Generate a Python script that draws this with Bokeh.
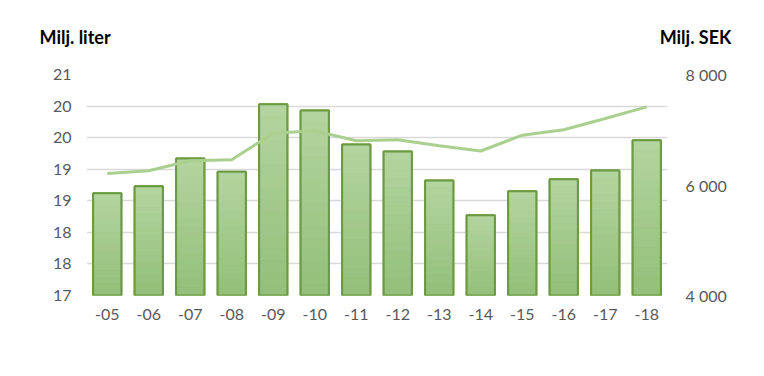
from bokeh.plotting import figure
from bokeh.models import (Range1d, LinearAxis, FixedTicker, CustomJSTickFormatter,
                          ColumnDataSource, Legend, LegendItem)
from bokeh.embed import file_html
from bokeh.resources import INLINE

years = ["-05", "-06", "-07", "-08", "-09", "-10", "-11", "-12", "-13", "-14", "-15", "-16", "-17", "-18"]
liter = [18.62, 18.73, 19.17, 18.96, 20.03, 19.93, 19.39, 19.28, 18.82, 18.27, 18.65, 18.84, 18.98, 19.46]
sek = [6208, 6257, 6438, 6456, 6937, 6981, 6800, 6818, 6709, 6615, 6901, 6999, 7204, 7415]
left_ticks = [17, 17.5, 18, 18.5, 19, 19.5, 20, 20.5]
right_ticks = [4000, 6000, 8000]
left_title = "Milj. liter"
right_title = "Milj. SEK"

FONT = "Lato"
GRAY = "#595959"
BAR_TOP = "#b3d59f"
BAR_BOTTOM = "#93bf7a"
BAR_EDGE = "#6b9a40"
LINE_COL = "#a9d08e"

p = figure(frame_width=581, frame_height=221, x_range=years, y_range=Range1d(17, 20.5),
           output_backend="svg", toolbar_location=None,
           min_border_left=86, min_border_right=81, min_border_top=72, min_border_bottom=0)
p.outline_line_color = None
p.background_fill_color = "white"
p.border_fill_color = "white"
p.extra_y_ranges = {"sek": Range1d(4000, 8000)}

# Both axis titles share the top line (em spaces keep them apart)
p.title.text = left_title + "\u2003" * 40 + "\u2002" + right_title
p.title.align = "left"
p.title.vertical_align = "top"
p.title.offset = -47
p.title.standoff = 50
p.title.text_font = FONT
p.title.text_font_size = "18px"
p.title.text_font_style = "bold"
p.title.text_color = "black"

# Gradient slices for bars
N = 16
def hex2rgb(h):
    return tuple(int(h[i:i + 2], 16) for i in (1, 3, 5))
c_top, c_bot = hex2rgb(BAR_TOP), hex2rgb(BAR_BOTTOM)
sx, sb, st, sc = [], [], [], []
for yr, v in zip(years, liter):
    for k in range(N):
        f = (k + 0.5) / N
        col = tuple(int(round(c_bot[j] + (c_top[j] - c_bot[j]) * f)) for j in range(3))
        sx.append(yr)
        sb.append(17 + (v - 17) * k / N)
        st.append(17 + (v - 17) * (k + 1) / N)
        sc.append("#%02x%02x%02x" % col)

bars_src = ColumnDataSource(dict(x=years, top=liter))
base = p.vbar(x="x", top="top", bottom=17, width=0.68, source=bars_src,
              fill_color="#a3ca8b", line_color=BAR_EDGE, line_width=2)
slices = ColumnDataSource(dict(x=sx, bottom=sb, top=st, color=sc))
p.vbar(x="x", bottom="bottom", top="top", width=0.68, source=slices,
       fill_color="color", line_color="color", line_width=0.5)
p.vbar(x="x", top="top", bottom=17, width=0.68, source=bars_src,
       fill_alpha=0, line_color=BAR_EDGE, line_width=2)

ln = p.line(x=years, y=sek, y_range_name="sek", line_color=LINE_COL, line_width=3)

# Axes
p.yaxis.ticker = FixedTicker(ticks=left_ticks)
p.yaxis.formatter = CustomJSTickFormatter(code="return Math.round(tick).toString();")
right = LinearAxis(y_range_name="sek", ticker=FixedTicker(ticks=right_ticks),
                   formatter=CustomJSTickFormatter(code="return Math.round(tick).toString().replace(/\\B(?=(\\d{3})+(?!\\d))/g, ' ');"))
p.add_layout(right, "right")

for ax in [p.yaxis[0], right, p.xaxis[0]]:
    ax.axis_line_color = None
    ax.major_tick_line_color = None
    ax.minor_tick_line_color = None
    ax.major_tick_out = 0
    ax.major_tick_in = 0
    ax.major_label_text_font = FONT
    ax.major_label_text_font_size = "16px"
    ax.major_label_text_color = GRAY
p.yaxis[0].major_label_standoff = 15
right.major_label_standoff = 18
p.xaxis.major_label_standoff = 13

p.xgrid.grid_line_color = None
p.ygrid.grid_line_color = "#d9d9d9"
p.ygrid.grid_line_width = 1.5

legend = Legend(items=[LegendItem(label="Liter", renderers=[base]),
                       LegendItem(label="SEK (inkl. moms)", renderers=[ln])],
                orientation="horizontal", location="top_center",
                glyph_width=40, glyph_height=12, label_standoff=5, spacing=22,
                label_text_font=FONT, label_text_font_size="16px", label_text_color=GRAY,
                border_line_color=None, background_fill_alpha=0, padding=8, margin=0)
p.add_layout(legend, "below")

open("out.html", "w").write(file_html(p, INLINE))
